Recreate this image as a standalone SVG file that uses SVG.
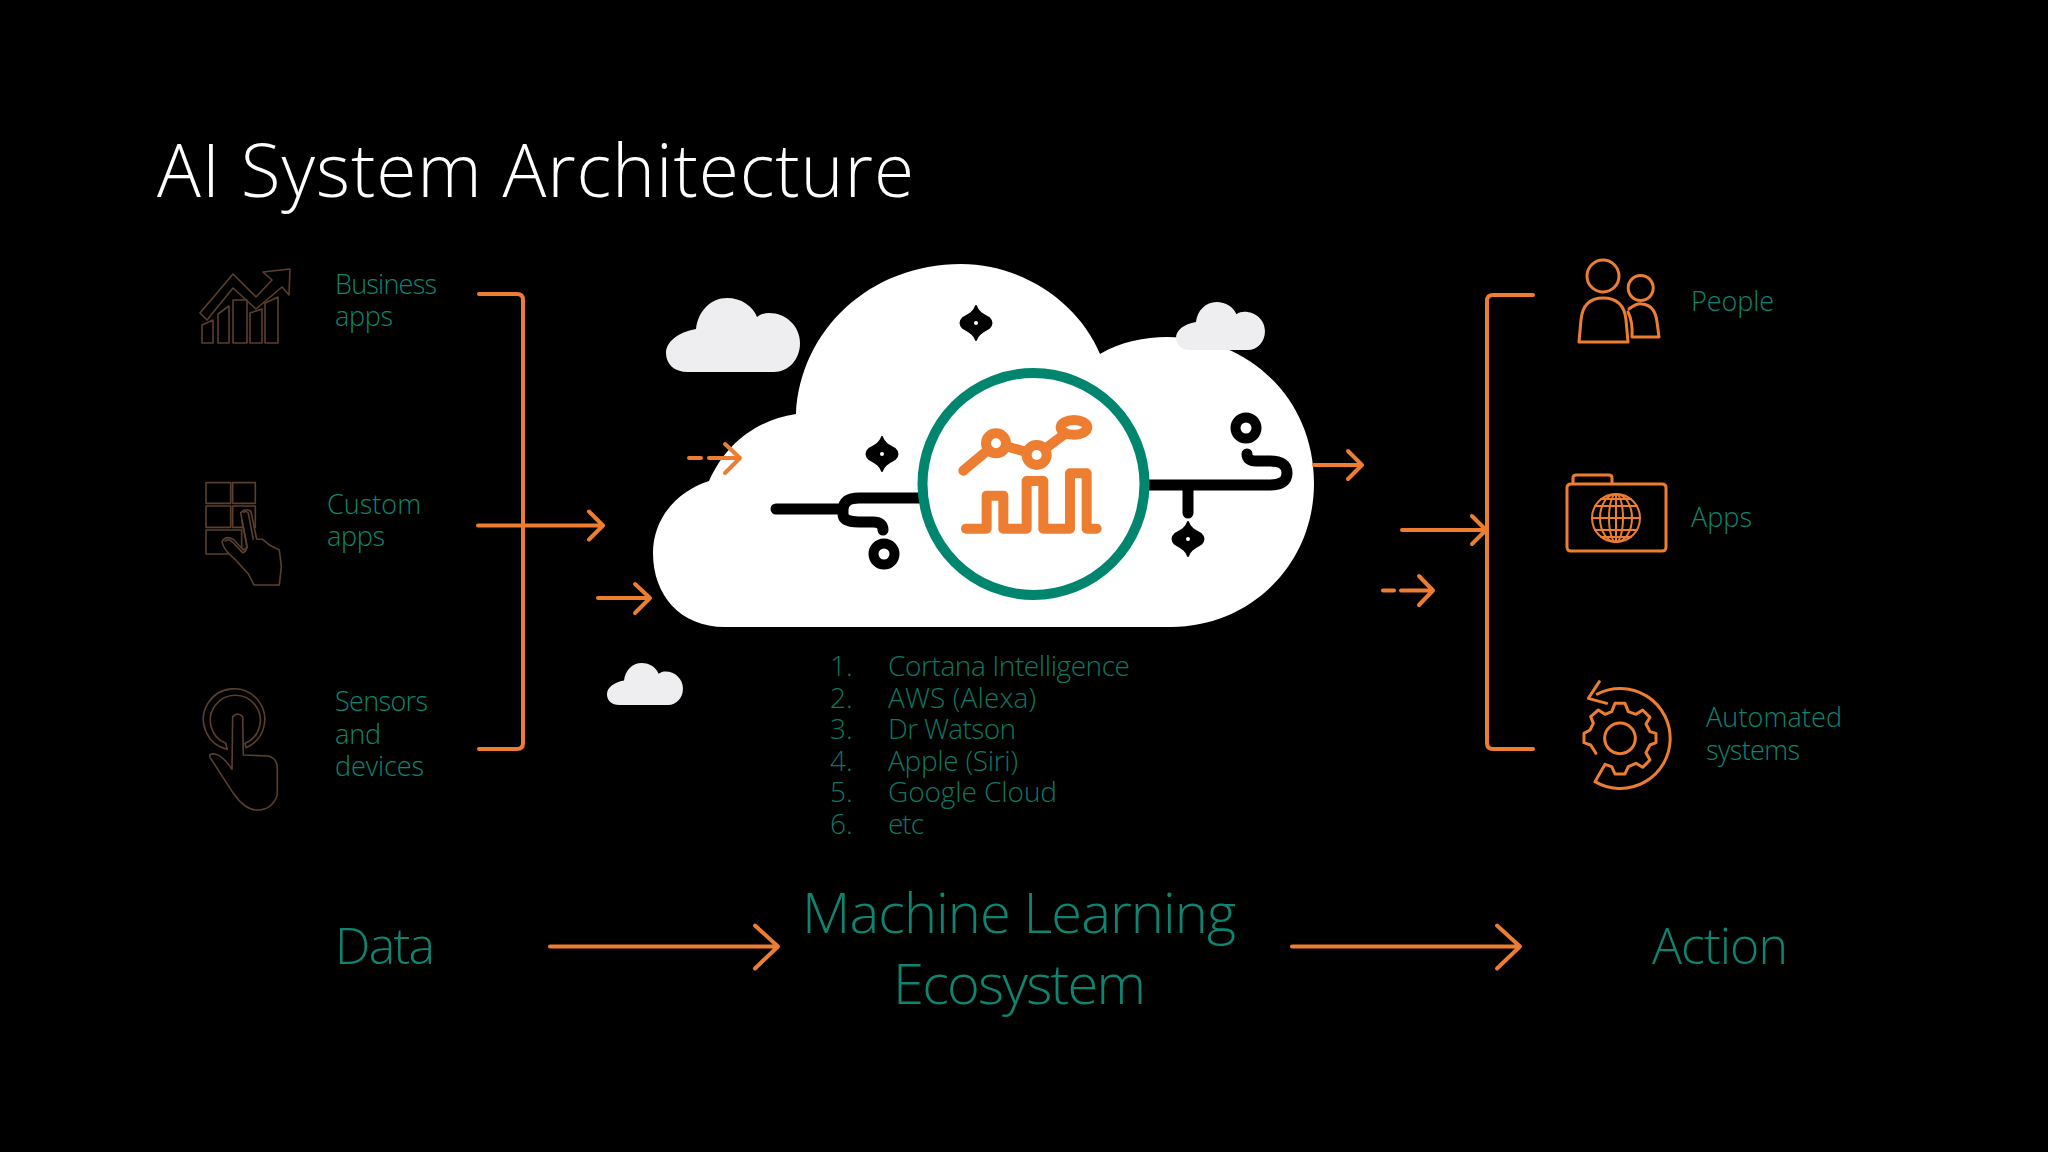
<svg xmlns="http://www.w3.org/2000/svg" width="2048" height="1152" viewBox="0 0 2048 1152">
<style>
text{font-family:"Open Sans","Noto Sans","Liberation Sans",sans-serif;font-weight:300;fill:#0e8570}
.title{fill:#fff;font-size:73px}
.lbl{font-size:27px}
.lst{font-size:28px;fill:#0e7762}
.big{font-size:50px}
.or{fill:none;stroke:#ed7d31;stroke-width:4;stroke-linecap:round;stroke-linejoin:round}
.ic{fill:none;stroke:#ed7d31;stroke-width:3;stroke-linecap:round;stroke-linejoin:round}
.dim{fill:none;stroke:#5b3f2e;stroke-width:1.6;stroke-linejoin:round}
.blk{fill:none;stroke:#000;stroke-width:11;stroke-linecap:round;stroke-linejoin:round}
.sm{fill:#eeedf0}
</style>
<defs>
<path id="cl" d="M22 74C8 74 0 66 0 55C0 44 12 34 30 31C32 13 45 0 61 0C75 0 87 8 91 19C95 16 99 15 103 15C120 15 134 28 134 45C134 62 122 74 108 74Z"/>
<path id="sp" d="M0 -17C2 -11 6 -9 13 -5Q18 0 13 5C6 9 2 11 0 17C-2 11 -6 9 -13 5Q-18 0 -13 -5C-6 -9 -2 -11 0 -17Z" fill="#000" stroke="#000" stroke-width="2" stroke-linejoin="round"/>
</defs>
<rect width="2048" height="1152" fill="#000"/>
<text id="title" class="title" x="157" y="197" textLength="757">AI System Architecture</text>

<g id="main-cloud">
<path fill="#fff" d="M725 627C680 627 653 595 653 553C653 520 675 492 709 481C725 445 755 420 796 414C800 330 870 264 961 264C1025 264 1080 305 1100 354C1120 342 1145 337 1167 337C1250 337 1314 400 1314 483C1314 565 1250 627 1171 627Z"/>
<use href="#cl" class="sm" transform="translate(666 298)"/>
<use href="#cl" class="sm" transform="translate(1176 302) scale(.664 .649)"/>
<use href="#sp" transform="translate(976 323)"/>
<circle cx="976" cy="323" r="2" fill="#fff"/>
<use href="#sp" transform="translate(882 454)"/>
<circle cx="882" cy="454" r="2" fill="#fff"/>
<use href="#sp" transform="translate(1188 539)"/>
<circle cx="1188" cy="539" r="2" fill="#fff"/>
<path class="blk" d="M776 509H843M925 498H859Q843 498 843 510V514Q843 522 859 522H873Q883 522 883 530"/>
<path class="blk" d="M1145 485H1270Q1287 485 1287 473Q1287 461 1270 461H1256Q1247 461 1247 454M1188 488V513"/>
<circle cx="884" cy="554" r="10.500" fill="none" stroke="#000" stroke-width="10"/>
<circle cx="1246" cy="428" r="10.500" fill="none" stroke="#000" stroke-width="10"/>
</g>

<g id="ml-core">
<circle cx="1033.500" cy="484" r="111" fill="#fff" stroke="#00856f" stroke-width="10"/>
<g transform="translate(900 360) scale(.3333)" fill="none" stroke="#ed7d31" stroke-width="30" stroke-linecap="round" stroke-linejoin="round">
<path d="M190 332L288 250L410 285L522 202"/>
<path d="M198 506H260V407H310V506H380V363H430V506H510V340H560V506H590"/>
<circle cx="288" cy="250" r="30" fill="#fff"/>
<circle cx="410" cy="285" r="30" fill="#fff"/>
<ellipse cx="522" cy="202" rx="40" ry="22" fill="#fff"/>
</g>
</g>

<use id="cloud-small-lower" href="#cl" class="sm" transform="translate(607 663) scale(.567)"/>

<g id="connectors">
<path class="or" d="M479 294H517Q523 294 523 300V743Q523 749 517 749H479"/>
<path class="or" d="M478 525.500H603M589 511.500L603 525.500L589 539.500"/>
<path class="or" d="M598 598H649M635 584L650 598L635 613"/>
<path class="or" d="M689 458H701M709 458H739M725 444L740 458L725 473"/>
<path class="or" d="M1314 465H1362M1348 451L1362 465L1348 479"/>
<path class="or" d="M1402 530H1486M1472 516L1486 530L1472 544"/>
<path class="or" d="M1383 590.500H1394M1401 590.500H1433M1419 576L1433 590.500L1419 605"/>
<path class="or" d="M1533 295H1493Q1487 295 1487 301V743Q1487 749 1493 749H1533"/>
<path class="or" d="M550 946.500H777M755 925.500L778 946.500L755 968.500"/>
<path class="or" d="M1292 946.500H1519M1497 925.500L1520 946.500L1497 968.500"/>
</g>

<g id="business-apps">
<path class="dim" d="M202 343V325L213 320V343ZM218 343V314L229 306V343ZM233 343V300H247V343ZM250 343V313L262 309V343ZM265 343V303L278 297V343Z"/>
<path class="dim" d="M200 313L233 274L256 297L272 280L263 272L290 269L289 295L282 287L256 309L233 288L207 320Z"/>
<text class="lbl" x="335" y="294" textLength="102">Business</text>
<text class="lbl" x="335" y="326" textLength="58">apps</text>
</g>

<g id="custom-apps">
<g transform="translate(190 470) scale(.3333)" class="dim" style="stroke-width:4.800">
<path d="M48 38H122V100H48ZM128 38H196V100H128ZM48 108H122V172H48ZM128 108H196V172H128ZM48 180H155V252H48Z"/>
<path style="fill:#000" d="M152 128Q168 112 183 125L200 207L218 208L240 226L268 240L274 290L268 345L192 345L175 312L135 268Q100 240 96 215Q108 195 130 208L160 240L172 232Z"/>
<path d="M160 128Q168 120 175 130L190 210M104 215Q115 203 128 217L158 248Q172 245 170 225L155 150"/>
</g>
<text class="lbl" x="327" y="514" textLength="94">Custom</text>
<text class="lbl" x="327" y="546" textLength="58">apps</text>
</g>

<g id="sensors-devices">
<g transform="translate(190 680) scale(.3333)" class="dim" style="stroke-width:4.800">
<path d="M107 190A75 75 0 1 1 165 190L168 203A92 92 0 1 0 112 208Z"/>
<path d="M128 110Q143 95 158 110L160 225L235 228Q262 235 262 265L262 345Q245 392 200 390Q165 390 130 340L60 232Q55 220 75 222Q100 228 126 268Z"/>
</g>
<text class="lbl" x="335" y="711" textLength="93">Sensors</text>
<text class="lbl" x="335" y="744" textLength="46">and</text>
<text class="lbl" x="335" y="776" textLength="89">devices</text>
</g>

<g id="people">
<circle class="ic" cx="1603" cy="276" r="16"/>
<path class="ic" d="M1579 342L1581 320Q1583 298 1603 298Q1624 298 1626 320L1628 342Z"/>
<circle class="ic" cx="1640.700" cy="288" r="12.500"/>
<path class="ic" d="M1629 309Q1637 303 1642 304Q1655 305 1657 322L1659 337H1632Q1633 322 1628 312"/>
<text class="lbl" x="1691" y="311" textLength="83">People</text>
</g>

<g id="apps">
<path class="ic" d="M1571 484H1662Q1666 484 1666 488V547Q1666 551 1662 551H1571Q1567 551 1567 547V488Q1567 484 1571 484ZM1573 484V478Q1573 475 1576 475H1609Q1612 475 1612 478V484"/>
<g class="ic" style="stroke-width:2">
<circle cx="1616" cy="518" r="24"/>
<ellipse cx="1616" cy="518" rx="16" ry="24"/>
<ellipse cx="1616" cy="518" rx="7" ry="24"/>
<path d="M1616 494V542M1592 518H1640M1595 506H1637M1595 530H1637M1601 499H1631M1601 537H1631"/>
</g>
<text class="lbl" x="1691" y="527" textLength="61">Apps</text>
</g>

<g id="automated-systems">
<g transform="translate(1560 670) scale(.3333)" class="ic" style="stroke-width:9">
<circle cx="180" cy="205" r="46"/>
<path d="M108 250L92 225L72 218V190L90 180L100 160L92 140L115 120L135 133L155 125L165 100H195L205 125L228 133L248 120L270 142L258 162L270 185L288 190V218L270 225L258 248L270 270L248 292L228 280L205 290L195 312H165L155 290L135 283L105 335A150 150 0 1 0 112 72"/>
<path d="M118 35L85 85L140 100"/>
</g>
<text class="lbl" x="1706" y="727" textLength="136">Automated</text>
<text class="lbl" x="1706" y="760" textLength="94">systems</text>
</g>

<g id="ecosystem-list">
<text class="lst" x="830" y="676">1.</text><text class="lst" x="888" y="676" textLength="242">Cortana Intelligence</text>
<text class="lst" x="830" y="708">2.</text><text class="lst" x="888" y="708" textLength="148">AWS (Alexa)</text>
<text class="lst" x="830" y="739">3.</text><text class="lst" x="888" y="739" textLength="128">Dr Watson</text>
<text class="lst" x="830" y="771">4.</text><text class="lst" x="888" y="771" textLength="130">Apple (Siri)</text>
<text class="lst" x="830" y="802">5.</text><text class="lst" x="888" y="802" textLength="169">Google Cloud</text>
<text class="lst" x="830" y="834">6.</text><text class="lst" x="888" y="834" textLength="36">etc</text>
</g>

<text id="data" class="big" x="335" y="964" textLength="100">Data</text>
<g id="machine-learning">
<text class="big" x="802" y="933" textLength="434" style="font-size:56px">Machine Learning</text>
<text class="big" x="893" y="1004" textLength="253" style="font-size:56px">Ecosystem</text>
</g>
<text id="action" class="big" x="1652" y="964" textLength="136">Action</text>
</svg>
